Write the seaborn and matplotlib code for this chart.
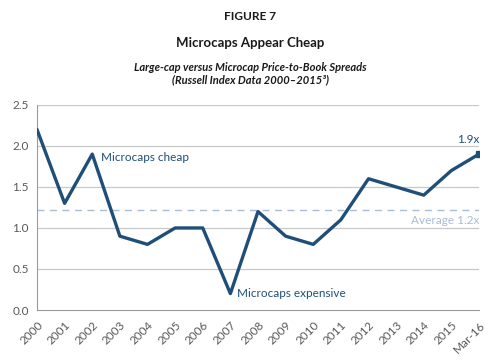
import matplotlib
matplotlib.use("Agg")
import matplotlib.pyplot as plt
import seaborn as sns
import pandas as pd

# data
periodes = ["2000", "2001", "2002", "2003", "2004", "2005", "2006", "2007", "2008",
            "2009", "2010", "2011", "2012", "2013", "2014", "2015", "Mar-16"]
spread = [2.2, 1.3, 1.9, 0.9, 0.8, 1.0, 1.0, 0.2, 1.2,
          0.9, 0.8, 1.1, 1.6, 1.5, 1.4, 1.7, 1.9]
moyenne = 1.22
yticks = [0.0, 0.5, 1.0, 1.5, 2.0, 2.5]

bleu = "#1f4e79"
gris = "#595959"

sns.set_style("white")
plt.rcParams['font.family'] = ['Lato', 'DejaVu Sans']

df = pd.DataFrame({"periode": periodes, "spread": spread, "pos": range(len(periodes))})

fig = plt.figure(figsize=(5, 3.63), dpi=100)
ax = fig.add_axes([0.074, 0.146, 0.884, 0.565])

for v in yticks[1:]:
    ax.axhline(v, color="#c8c8c8", lw=0.9, zorder=0)
ax.axhline(moyenne, color="#a9bdd6", lw=1.0, ls=(0, (5, 4)), zorder=1)

sns.lineplot(data=df, x="pos", y="spread", ax=ax, color=bleu, lw=2.4, zorder=3)
ax.plot(df["pos"].iloc[-1], df["spread"].iloc[-1], "s", color=bleu, ms=4, zorder=4)

ax.set_xlim(0, len(periodes) - 1)
ax.set_ylim(0, 2.5)
ax.set_xticks(df["pos"])
ax.set_xticklabels(periodes, rotation=45, ha="right", rotation_mode="anchor",
                   fontsize=8.5, color=gris)
ax.set_yticks(yticks)
ax.set_yticklabels([f"{v:.1f}" for v in yticks], fontsize=8.5, color=gris)
ax.tick_params(axis="x", length=4, color="#9a9a9a", width=0.8, pad=3)
ax.tick_params(axis="y", length=3, color="#9a9a9a", width=0.8, pad=3)
ax.set_xlabel("")
ax.set_ylabel("")
for s in ["top", "right"]:
    ax.spines[s].set_visible(False)
for s in ["left", "bottom"]:
    ax.spines[s].set_color("#9a9a9a")
    ax.spines[s].set_linewidth(0.8)

ax.text(2.3, 1.86, "Microcaps cheap", color=bleu, fontsize=8.5, va="center")
ax.text(7.25, 0.2, "Microcaps expensive", color=bleu, fontsize=8.5, va="center")
ax.text(16, 2.08, "1.9x", color=bleu, fontsize=8.5, ha="right", va="center")
ax.text(16, 1.09, "Average 1.2x", color="#a9bdd6", fontsize=8.5, ha="right", va="center")

fig.text(0.5, 0.945, "FIGURE 7", ha="center", fontsize=8.5, fontweight="bold", color="#1a1a1a")
fig.text(0.5, 0.87, "Microcaps Appear Cheap", ha="center", fontsize=9.5, fontweight="bold", color="#1a1a1a")
fig.text(0.5, 0.805, "Large-cap versus Microcap Price-to-Book Spreads", ha="center",
         fontsize=8, fontweight="bold", style="italic", color="#1a1a1a")
fig.text(0.5, 0.77, "(Russell Index Data 2000\u20132015\u00b3)", ha="center",
         fontsize=8, fontweight="bold", style="italic", color="#1a1a1a")

fig.savefig("out.png", dpi=100)
